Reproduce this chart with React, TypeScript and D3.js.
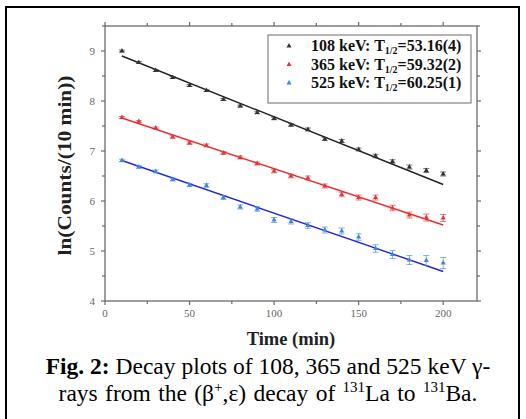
import React, { useEffect, useRef } from "react";
import * as d3 from "d3";

// time in minutes
const times = [10, 20, 30, 40, 50, 60, 70, 80, 90, 100, 110, 120, 130, 140, 150, 160, 170, 180, 190, 200];

const kev108 = [9.0, 8.77, 8.61, 8.47, 8.31, 8.21, 8.03, 7.9, 7.77, 7.65, 7.52, 7.43, 7.24, 7.2, 7.03, 6.9, 6.79, 6.68, 6.61, 6.54];
const kev365 = [7.67, 7.59, 7.46, 7.28, 7.16, 7.11, 6.96, 6.87, 6.75, 6.6, 6.5, 6.46, 6.3, 6.13, 6.07, 6.07, 5.86, 5.72, 5.67, 5.66];
const kev525 = [6.81, 6.68, 6.59, 6.43, 6.32, 6.31, 6.07, 5.88, 5.84, 5.62, 5.59, 5.51, 5.42, 5.4, 5.28, 5.05, 4.93, 4.82, 4.81, 4.76];

const err108 = [0.02, 0.02, 0.02, 0.02, 0.02, 0.02, 0.02, 0.02, 0.025, 0.025, 0.025, 0.03, 0.03, 0.03, 0.03, 0.035, 0.035, 0.04, 0.04, 0.04];
const err365 = [0.02, 0.02, 0.02, 0.025, 0.025, 0.03, 0.03, 0.03, 0.03, 0.035, 0.035, 0.04, 0.04, 0.045, 0.05, 0.05, 0.055, 0.06, 0.07, 0.07];
const err525 = [0.025, 0.025, 0.03, 0.03, 0.03, 0.035, 0.04, 0.04, 0.045, 0.05, 0.05, 0.055, 0.06, 0.06, 0.065, 0.075, 0.08, 0.09, 0.1, 0.11];

// linear fit end points [t=10, t=200]
const fit108 = [8.9, 6.33];
const fit365 = [7.66, 5.52];
const fit525 = [6.81, 4.59];

const energies = ["108", "365", "525"];
const halfLives = ["53.16(4)", "59.32(2)", "60.25(1)"];

const xTicks = [0, 50, 100, 150, 200];
const yTicks = [4, 5, 6, 7, 8, 9];

const series = [
  { values: kev108, errors: err108, fit: fit108, marker: "#333333", line: "#222222" },
  { values: kev365, errors: err365, fit: fit365, marker: "#e8353a", line: "#ee2a2f" },
  { values: kev525, errors: err525, fit: fit525, marker: "#3f86de", line: "#2424d8" },
];

export default function App() {
  const ref = useRef<SVGSVGElement>(null);

  useEffect(() => {
    const svg = d3.select(ref.current);
    svg.selectAll("*").remove();

    const left = 105, right = 477, top = 26, bottom = 301;
    const axisColor = "#6b6b6b";
    const serif = "Times New Roman, Liberation Serif, serif";

    svg.append("rect")
      .attr("x", 6).attr("y", 7).attr("width", 513).attr("height", 420)
      .attr("fill", "white").attr("stroke", "black").attr("stroke-width", 2);

    const x = d3.scaleLinear().domain([0, 220]).range([left, right]);
    const y = d3.scaleLinear().domain([4, 9.5]).range([bottom, top]);

    // frame
    svg.append("rect")
      .attr("x", left).attr("y", top).attr("width", right - left).attr("height", bottom - top)
      .attr("fill", "none").attr("stroke", axisColor).attr("stroke-width", 1.3);

    const g = svg.append("g");
    const minorX = d3.range(0, 225, 25);
    const minorY = d3.range(4, 9.51, 0.5);

    minorX.forEach(t => {
      const len = t % 50 === 0 ? 4 : 3;
      g.append("line").attr("x1", x(t)).attr("x2", x(t)).attr("y1", bottom).attr("y2", bottom + len)
        .attr("stroke", axisColor).attr("stroke-width", 1.2);
      g.append("line").attr("x1", x(t)).attr("x2", x(t)).attr("y1", top).attr("y2", top - len)
        .attr("stroke", axisColor).attr("stroke-width", 1.2);
    });
    minorY.forEach(v => {
      const len = Math.abs(v - Math.round(v)) < 0.01 ? 4 : 3;
      g.append("line").attr("x1", left).attr("x2", left - len).attr("y1", y(v)).attr("y2", y(v))
        .attr("stroke", axisColor).attr("stroke-width", 1.2);
      g.append("line").attr("x1", right).attr("x2", right + len).attr("y1", y(v)).attr("y2", y(v))
        .attr("stroke", axisColor).attr("stroke-width", 1.2);
    });

    g.selectAll(".xt").data(xTicks).join("text")
      .attr("x", d => x(d)).attr("y", bottom + 16)
      .attr("text-anchor", "middle").attr("font-family", serif).attr("font-size", 11)
      .attr("fill", "#666").text(d => d);
    g.selectAll(".yt").data(yTicks).join("text")
      .attr("x", left - 10).attr("y", d => y(d) + 4)
      .attr("text-anchor", "end").attr("font-family", serif).attr("font-size", 11)
      .attr("fill", "#666").text(d => d);

    svg.append("text")
      .attr("x", 291).attr("y", 345).attr("text-anchor", "middle")
      .attr("font-family", serif).attr("font-size", 18.5).attr("font-weight", "bold")
      .attr("fill", "#222").text("Time (min)");
    svg.append("text")
      .attr("transform", `translate(71,${(top + bottom) / 2 + 2}) rotate(-90)`)
      .attr("text-anchor", "middle")
      .attr("font-family", serif).attr("font-size", 19).attr("font-weight", "bold")
      .attr("textLength", 180).attr("lengthAdjust", "spacingAndGlyphs")
      .attr("fill", "#222").text("ln(Counts/(10 min))");

    const tri = d3.symbol().type(d3.symbolTriangle).size(11);

    series.forEach(s => {
      const sg = svg.append("g");
      sg.append("line")
        .attr("x1", x(10)).attr("y1", y(s.fit[0]))
        .attr("x2", x(200)).attr("y2", y(s.fit[1]))
        .attr("stroke", s.line).attr("stroke-width", 1.4);

      const pts = sg.selectAll("g.p").data(s.values).join("g")
        .attr("transform", (d, i) => `translate(${x(times[i])},${y(d)})`);
      pts.append("line")
        .attr("y1", (d, i) => y(d + s.errors[i]) - y(d)).attr("y2", (d, i) => y(d - s.errors[i]) - y(d))
        .attr("stroke", s.marker).attr("stroke-width", 0.8).attr("opacity", 0.8);
      [1, -1].forEach(sign => {
        pts.append("line")
          .attr("x1", -3).attr("x2", 3)
          .attr("y1", (d, i) => y(d + sign * s.errors[i]) - y(d))
          .attr("y2", (d, i) => y(d + sign * s.errors[i]) - y(d))
          .attr("stroke", s.marker).attr("stroke-width", 0.8).attr("opacity", 0.8);
      });
      pts.append("path").attr("d", tri).attr("fill", s.marker);
    });

    // legend
    const lg = svg.append("g");
    lg.append("rect").attr("x", 268).attr("y", 35).attr("width", 203).attr("height", 68)
      .attr("fill", "white").attr("stroke", axisColor).attr("stroke-width", 1);
    series.forEach((s, i) => {
      const cy = 46 + i * 18.5;
      lg.append("path").attr("d", tri).attr("fill", s.marker)
        .attr("transform", `translate(289,${cy})`);
      const t = lg.append("text").attr("x", 311).attr("y", cy + 5)
        .attr("font-family", serif).attr("font-size", 16).attr("font-weight", "bold").attr("fill", "#111");
      t.append("tspan").text(`${energies[i]} keV: T`);
      t.append("tspan").attr("font-size", 10).attr("dy", 3).text("1/2");
      t.append("tspan").attr("dy", -3).text(`=${halfLives[i]}`);
    });

    // caption
    const c1 = svg.append("text").attr("x", 268).attr("y", 374).attr("text-anchor", "middle")
      .attr("font-family", serif).attr("font-size", 23.5).attr("fill", "black");
    c1.append("tspan").attr("font-weight", "bold").text("Fig. 2:");
    c1.append("tspan").text(" Decay plots of 108, 365 and 525 keV \u03b3-");
    const c2 = svg.append("text").attr("x", 268).attr("y", 401).attr("text-anchor", "middle")
      .attr("font-family", serif).attr("font-size", 23.5).attr("fill", "black")
      .attr("word-spacing", 1.5);
    c2.append("tspan").text("rays from the (\u03b2");
    c2.append("tspan").attr("font-size", 15).attr("dy", -9).text("+");
    c2.append("tspan").attr("dy", 9).text(",\u03b5) decay of ");
    c2.append("tspan").attr("font-size", 15).attr("dy", -9).text("131");
    c2.append("tspan").attr("dy", 9).text("La to ");
    c2.append("tspan").attr("font-size", 15).attr("dy", -9).text("131");
    c2.append("tspan").attr("dy", 9).text("Ba.");
  }, []);

  return (
    <svg ref={ref} width={526} height={419}
      style={{ position: "absolute", left: 0, top: 0, background: "white" }} />
  );
}
